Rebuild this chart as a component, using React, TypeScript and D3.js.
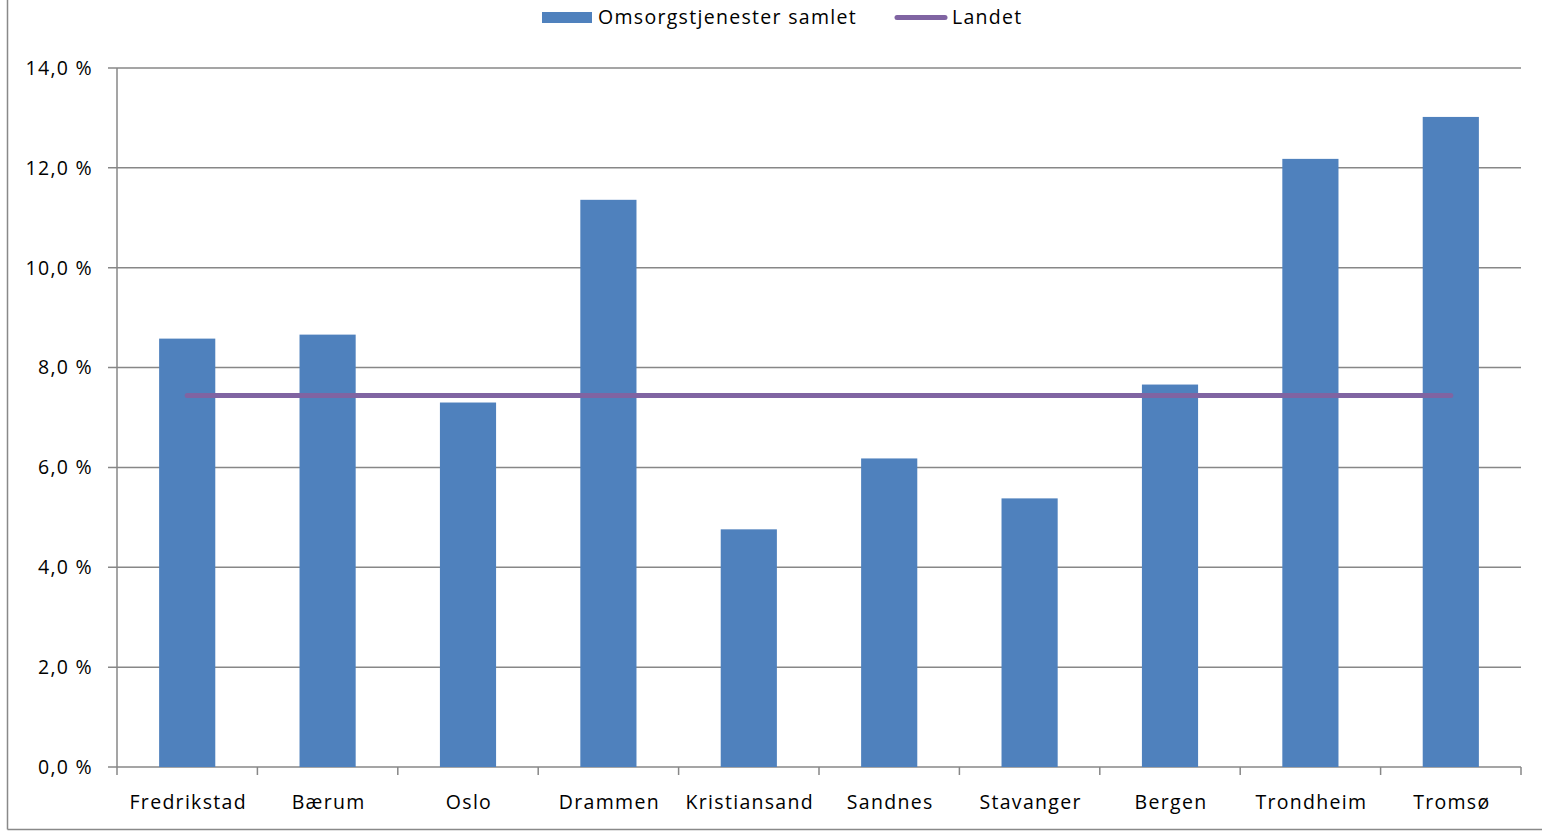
import React from "react";
import * as d3 from "d3";

const categories = ["Fredrikstad", "Bærum", "Oslo", "Drammen", "Kristiansand", "Sandnes", "Stavanger", "Bergen", "Trondheim", "Tromsø"];
const omsorgValues = [8.58, 8.66, 7.3, 11.36, 4.76, 6.18, 5.38, 7.66, 12.18, 13.02];
const landetValues = [7.44, 7.44, 7.44, 7.44, 7.44, 7.44, 7.44, 7.44, 7.44, 7.44];
const yTicks = [0, 2, 4, 6, 8, 10, 12, 14];

const W = 1542, H = 831;
const left = 117, right = 1521, top = 68, bottom = 767;
const FONT = "'Open Sans', Lato, sans-serif";
const FS = 19.5;
const LS = 1.3;

export default function App() {
  const x = d3.scaleBand<string>().domain(categories).range([left, right]).paddingInner(0).paddingOuter(0);
  const y = d3.scaleLinear().domain([0, 14]).range([bottom, top]);
  const bw = x.bandwidth() * 0.4;
  const line = d3.line<number>()
    .x((_, i) => (x(categories[i]) as number) + x.bandwidth() / 2)
    .y((d) => y(d));
  const fmt = (v: number) => v.toFixed(1).replace(".", ",") + " %";
  return (
    <svg width={W} height={H} style={{ position: "absolute", left: 0, top: 0, background: "#fff" }} fontFamily={FONT} letterSpacing={LS}>
      <line x1={7.5} x2={7.5} y1={0} y2={829.5} stroke="#898989" strokeWidth={1.5} />
      <line x1={7.5} x2={W} y1={829.5} y2={829.5} stroke="#898989" strokeWidth={1.5} />
      {yTicks.map((t) => (
        <g key={t}>
          <line x1={108} x2={right} y1={y(t)} y2={y(t)} stroke="#878787" strokeWidth={1.5} />
          <text x={93} y={y(t)} dy="0.35em" textAnchor="end" fontSize={FS} fill="#000">{fmt(t)}</text>
        </g>
      ))}
      <line x1={left} x2={left} y1={top} y2={bottom} stroke="#878787" strokeWidth={1.5} />
      {categories.map((c, i) => (
        <line key={"t" + i} x1={x(c)} x2={x(c)} y1={bottom} y2={bottom + 8} stroke="#878787" strokeWidth={1.5} />
      ))}
      <line x1={right} x2={right} y1={bottom} y2={bottom + 8} stroke="#878787" strokeWidth={1.5} />
      {categories.map((c, i) => (
        <rect key={c} x={(x(c) as number) + (x.bandwidth() - bw) / 2} y={y(omsorgValues[i])} width={bw} height={bottom - y(omsorgValues[i])} fill="#4F81BD" />
      ))}
      {categories.map((c) => (
        <text key={"l" + c} x={(x(c) as number) + x.bandwidth() / 2 + 1} y={809} textAnchor="middle" fontSize={FS} fill="#000">{c}</text>
      ))}
      <path d={line(landetValues) as string} fill="none" stroke="#8064A2" strokeWidth={5} strokeLinecap="round" />
      <rect x={542} y={12} width={50} height={11} fill="#4F81BD" />
      <text x={598} y={17} dy="0.35em" fontSize={FS} fill="#000">Omsorgstjenester samlet</text>
      <line x1={897} x2={945} y1={17.5} y2={17.5} stroke="#8064A2" strokeWidth={5} strokeLinecap="round" />
      <text x={952} y={17} dy="0.35em" fontSize={FS} fill="#000">Landet</text>
    </svg>
  );
}
